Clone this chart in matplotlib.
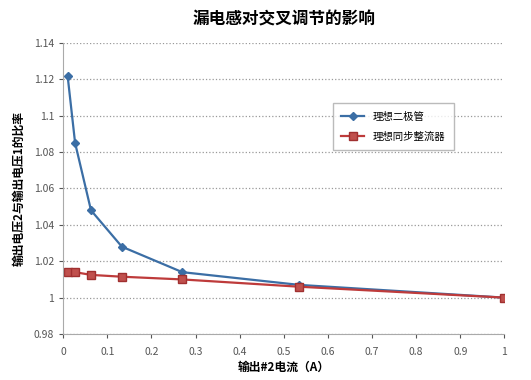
import numpy as np
import matplotlib.pyplot as plt

plt.rcParams['font.family'] = ['Noto Sans CJK SC', 'DejaVu Sans']

# data
x_diode = [0.01, 0.027, 0.063, 0.133, 0.27, 0.535, 1.0]
y_diode = [1.122, 1.085, 1.048, 1.028, 1.014, 1.007, 1.000]
x_sync = [0.01, 0.027, 0.063, 0.133, 0.27, 0.535, 1.0]
y_sync = [1.014, 1.014, 1.0125, 1.0115, 1.010, 1.006, 1.000]
xticks = np.arange(0, 1.01, 0.1)
yticks = np.arange(0.98, 1.141, 0.02)

fig = plt.figure(figsize=(5.31, 3.8), dpi=100)
ax = fig.add_axes([0.119, 0.121, 0.831, 0.766])

ax.plot(x_diode, y_diode, color='#3b6ea5', marker='D', markersize=4.5, lw=1.6,
        label='理想二极管')
ax.plot(x_sync, y_sync, color='#be3b3b', marker='s', markersize=6, lw=1.6,
        markerfacecolor='#c0504d', markeredgecolor='#a03030', label='理想同步整流器')

ax.set_xlim(0, 1)
ax.set_ylim(0.98, 1.14)
ax.set_xticks(xticks)
ax.set_xticklabels(['0'] + ['%.1f' % v for v in xticks[1:-1]] + ['1'])
ax.set_yticks(yticks)
ax.set_yticklabels(['0.98', '1', '1.02', '1.04', '1.06', '1.08', '1.1', '1.12', '1.14'])
ax.tick_params(labelsize=7.5, colors='#555555', length=3, direction='out')
ax.tick_params(axis='x', pad=6)
ax.yaxis.grid(True, linestyle=':', color='#999999', lw=0.9)
for s in ['top', 'right']:
    ax.spines[s].set_visible(False)
for s in ['left', 'bottom']:
    ax.spines[s].set_color('#aaaaaa')

ax.set_title('漏电感对交叉调节的影响', fontsize=12, fontweight='bold', pad=13)
ax.set_xlabel('输出#2电流（A）', fontsize=8.5, fontweight='bold', labelpad=3)
ax.set_ylabel('输出电压2与输出电压1的比率', fontsize=8.5, fontweight='bold', labelpad=6)

leg = ax.legend(loc='upper left', bbox_to_anchor=(0.6, 0.81), fontsize=7.5,
                frameon=True, fancybox=False, edgecolor='#aaaaaa', borderpad=0.8,
                labelspacing=0.9, handlelength=2.2)

fig.savefig('out.png', dpi=100)
